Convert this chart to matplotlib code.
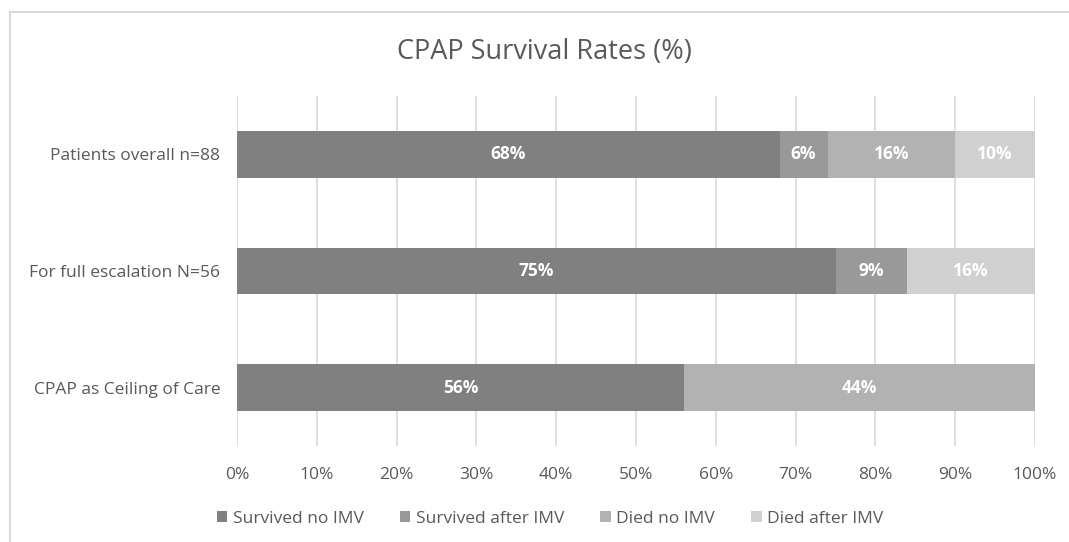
import matplotlib.pyplot as plt
from matplotlib.patches import Rectangle
import numpy as np

categories = ["Patients overall n=88", "For full escalation N=56", "CPAP as Ceiling of Care"]
series_names = ["Survived no IMV", "Survived after IMV", "Died no IMV", "Died after IMV"]
survived_no_imv = [68, 75, 56]
survived_after_imv = [6, 9, 0]
died_no_imv = [16, 0, 44]
died_after_imv = [10, 16, 0]
colors = ["#808080", "#999999", "#b2b2b2", "#d0d0d0"]
xticks = list(range(0, 101, 10))

plt.rcParams["font.family"] = ["Open Sans", "DejaVu Sans"]
text_color = "#595959"

fig = plt.figure(figsize=(10.69, 5.42), dpi=100)
ax = fig.add_axes([237 / 1069, 96 / 542, (1035 - 237) / 1069, 350 / 542])

# chart area border (cut off at right and bottom)
fig.patches.append(Rectangle((10 / 1069, -0.1), 1.2, (542 - 12) / 542 + 0.1,
                             transform=fig.transFigure, fill=False,
                             edgecolor="#d9d9d9", linewidth=1.5))

y = np.arange(len(categories))
left = np.zeros(len(categories))
for name, vals, c in zip(series_names,
                         [survived_no_imv, survived_after_imv, died_no_imv, died_after_imv],
                         colors):
    vals = np.array(vals, dtype=float)
    ax.barh(y, vals, left=left, height=0.4, color=c, label=name, zorder=3)
    for yi, (l, v) in enumerate(zip(left, vals)):
        if v > 0:
            ax.text(l + v / 2, yi, f"{int(v)}%", ha="center", va="center",
                    color="white", fontsize=12.5, fontweight="bold", zorder=4)
    left += vals

ax.set_xlim(0, 100)
ax.set_ylim(2.5, -0.5)
ax.set_xticks(xticks)
ax.set_xticklabels([f"{t}%" for t in xticks], color=text_color, fontsize=12.5)
ax.set_yticks(y)
ax.set_yticklabels(categories, color=text_color, fontsize=12.5)
ax.tick_params(axis="both", length=0)
ax.tick_params(axis="x", pad=15)
ax.tick_params(axis="y", pad=12)
ax.grid(axis="x", color="#d9d9d9", linewidth=1.2, zorder=0)
for s in ax.spines.values():
    s.set_visible(False)

fig.text(544 / 1069, 1 - 52 / 542, "CPAP Survival Rates (%)", ha="center", va="center",
         fontsize=19.5, color=text_color)

fig.legend(loc="center", bbox_to_anchor=(550 / 1069, 1 - 519 / 542), ncol=4,
           frameon=False, fontsize=12.5, labelcolor=text_color, handlelength=0.6,
           handleheight=0.6, handletextpad=0.3, columnspacing=2.1)

fig.savefig("out.png", dpi=100)
